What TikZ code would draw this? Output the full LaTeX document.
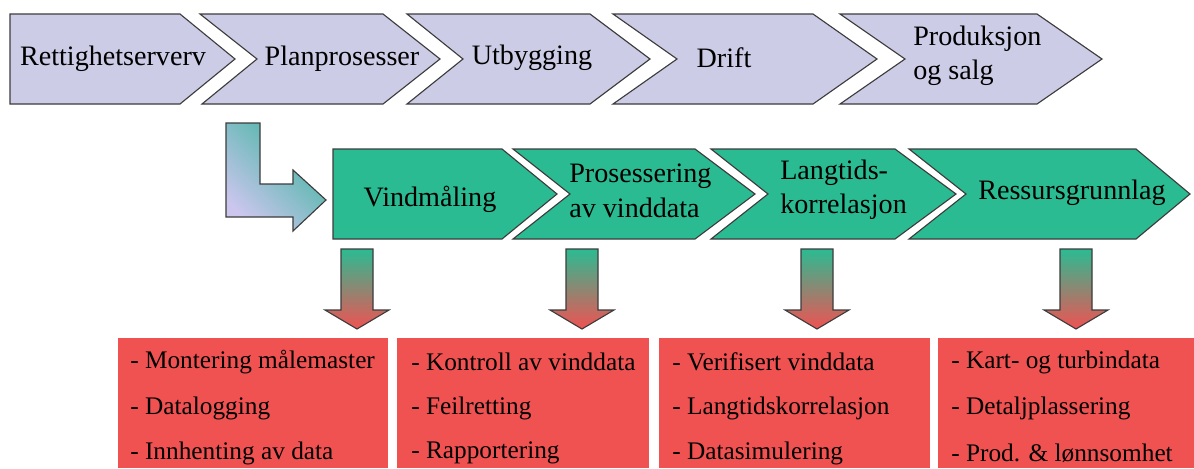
\documentclass[tikz,border=0pt]{standalone}
\usepackage{fontspec}
\setmainfont{Liberation Serif}
\definecolor{lav}{RGB}{204,204,230}
\definecolor{vgreen}{RGB}{43,187,146}
\definecolor{vred}{RGB}{240,82,82}
\definecolor{edge}{RGB}{60,60,60}
\definecolor{lteal}{RGB}{64,180,160}
\definecolor{llav}{RGB}{204,198,238}
\definecolor{mudd}{RGB}{175,160,115}

\begin{document}
\begin{tikzpicture}[x=0.025cm,y=-0.025cm]
    \tikzstyle{every node}+=[inner sep=0pt]
    \tikzstyle{phase}=[font=\rmfamily\fontsize{20}{24.5}\selectfont]
    \tikzstyle{item}=[font=\rmfamily\fontsize{18}{22}\selectfont, anchor=west]
    \tikzstyle{lavbox}=[fill=lav, draw=edge, line width=0.8pt]
    \tikzstyle{grnbox}=[fill=vgreen, draw=edge, line width=0.8pt]
    \tikzstyle{downarrow}=[top color=vgreen, middle color=mudd, bottom color=vred, draw=edge, line width=0.8pt]
    \useasboundingbox (0,0) rectangle (1194,468);
    % top row
    \draw [lavbox] (10,14) -- (180,14) -- (235,59) -- (180,104) -- (10,104) -- cycle;
    \draw (113,59) node [phase] (retti) {Rettighetserverv};
    \draw [lavbox] (200,14) -- (383,14) -- (440,59) -- (383,104) -- (202,104) -- (257,59) -- cycle;
    \draw (342,59) node [phase] (plan) {Planprosesser};
    \draw [lavbox] (407,14) -- (590,14) -- (650,59) -- (590,104) -- (407,104) -- (463,59) -- cycle;
    \draw (532,58) node [phase] (utbyg) {Utbygging};
    \draw [lavbox] (613,14) -- (813,14) -- (877,59) -- (813,104) -- (613,104) -- (677,59) -- cycle;
    \draw (724,58) node [phase] (drift) {Drift};
    \draw [lavbox] (840,14) -- (1037,14) -- (1102,59) -- (1037,104) -- (840,104) -- (905,59) -- cycle;
    \draw (913,56) node [phase, anchor=west, align=left] (prod) {Produksjon\\og salg};
    % L arrow
    \shadedraw [top color=lteal, bottom color=llav, shading angle=-45, draw=edge, line width=0.8pt]
        (226,123) -- (260,123) -- (260,184) -- (293,184) -- (293,170) -- (326,200)
        -- (293,231) -- (293,217) -- (226,217) -- cycle;
    % green row
    \draw [grnbox] (333,149) -- (502,149) -- (557,194) -- (502,239) -- (333,239) -- cycle;
    \draw (430,199) node [phase] (vind) {Vindmåling};
    \draw [grnbox] (513,149) -- (695,149) -- (755,194) -- (695,239) -- (513,239) -- (570,194) -- cycle;
    \draw (569,191) node [phase, anchor=west, align=left] (pros) {Prosessering\\av vinddata};
    \draw [grnbox] (711,149) -- (895,149) -- (956,194) -- (895,239) -- (711,239) -- (768,194) -- cycle;
    \draw (780,190) node [phase, anchor=west, align=left] (lang) {Langtids-\\korrelasjon};
    \draw [grnbox] (909,149) -- (1136,149) -- (1190,194) -- (1136,239) -- (909,239) -- (966,194) -- cycle;
    \draw (1072,193) node [phase] (ress) {Ressursgrunnlag};
    % down arrows
    \foreach \cx in {357,582,817,1076}
        \shadedraw [downarrow] (\cx-16,249) -- (\cx+16,249) -- (\cx+16,310) -- (\cx+32,310)
            -- (\cx,329) -- (\cx-32,310) -- (\cx-16,310) -- cycle;
    % red boxes
    \fill [vred] (118,338) rectangle (388,468);
    \fill [vred] (397,338) rectangle (649,468);
    \fill [vred] (659,338) rectangle (930,468);
    \fill [vred] (938,338) rectangle (1194,468);
    \draw (130,362) node [item] (mont) {- Montering målemaster};
    \draw (130,408) node [item] (logg) {- Datalogging};
    \draw (130,453) node [item] (innh) {- Innhenting av data};
    \draw (411,362) node [item] (kontr) {- Kontroll av vinddata};
    \draw (411,408) node [item] (feil) {- Feilretting};
    \draw (411,453) node [item] (rapp) {- Rapportering};
    \draw (672,362) node [item] (verif) {- Verifisert vinddata};
    \draw (672,408) node [item] (korr) {- Langtidskorrelasjon};
    \draw (672,453) node [item] (simu) {- Datasimulering};
    \draw (951,362) node [item] (kart) {- Kart- og turbindata};
    \draw (951,408) node [item] (detal) {- Detaljplassering};
    \draw (951,453) node [item] (lonn) {- Prod. \& lønnsomhet};
\end{tikzpicture}
\end{document}
